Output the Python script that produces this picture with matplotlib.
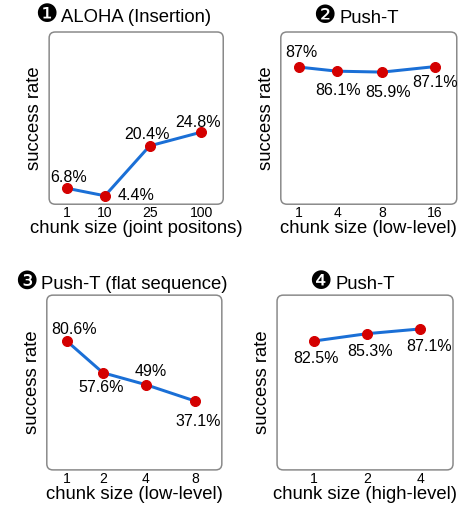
import matplotlib
matplotlib.use('Agg')
import numpy as np
import matplotlib.pyplot as plt
from matplotlib.patches import FancyBboxPatch

plt.rcParams['font.family'] = ['Liberation Sans', 'DejaVu Sans']

# data
aloha_chunks = ['1', '10', '25', '100']
aloha_rates = [6.8, 4.4, 20.4, 24.8]

pusht_low_chunks = ['1', '4', '8', '16']
pusht_low_rates = [87.0, 86.1, 85.9, 87.1]

flat_chunks = ['1', '2', '4', '8']
flat_rates = [80.6, 57.6, 49.0, 37.1]

pusht_high_chunks = ['1', '2', '4']
pusht_high_rates = [82.5, 85.3, 87.1]

badges = ['\u2776', '\u2777', '\u2778', '\u2779']
titles = ['ALOHA (Insertion)', 'Push-T', 'Push-T (flat sequence)', 'Push-T']
xlabels = ['chunk size (joint positons)', 'chunk size (low-level)',
           'chunk size (low-level)', 'chunk size (high-level)']

LINE = '#1a6fd6'
DOT = '#d40000'


# category axis whose gaps widen a little to the right, like the original drawing
def stretch(i):
    return i + 0.1 * np.asarray(i) ** 2


def unstretch(y):
    return (-1 + np.sqrt(np.clip(1 + 0.4 * np.asarray(y), 1e-9, None))) / 0.2


def panel(fig, rect, chunks, rates, badge, title, xlabel, ylim, xlim, offsets, title_off,
          stretched=True):
    ax = fig.add_axes(rect)
    if stretched:
        ax.set_xscale('function', functions=(stretch, unstretch))
    x = list(range(len(chunks)))
    ax.plot(x, rates, color=LINE, lw=3, zorder=2)
    ax.plot(x, rates, 'o', color=DOT, ms=10, zorder=3)
    for xi, r, (dx, dy) in zip(x, rates, offsets):
        ax.annotate('%g%%' % r, (xi, r), xytext=(dx, dy), textcoords='offset points',
                    ha='center', va='center', fontsize=16)
    ax.set_xlim(*xlim)
    ax.set_ylim(*ylim)
    ax.set_xticks(x)
    ax.set_xticklabels(chunks, fontsize=14)
    ax.minorticks_off()
    ax.set_yticks([])
    ax.tick_params(axis='x', length=0, pad=2)
    for s in ax.spines.values():
        s.set_visible(False)
    ax.patch.set_visible(False)
    box = FancyBboxPatch((0, 0), 1, 1, boxstyle='round,pad=0,rounding_size=0.035',
                         transform=ax.transAxes, fc='none', ec='#888888', lw=1.5,
                         clip_on=False, zorder=1)
    ax.add_patch(box)
    ax.set_xlabel(xlabel, fontsize=18.5, labelpad=0)
    ax.set_ylabel('success rate', fontsize=18.5, labelpad=6)

    # title centred on the box, numbered badge hanging to its left
    t = ax.annotate(title, (0.5, 1), xycoords='axes fraction', xytext=(0, title_off),
                    textcoords='offset points', ha='center', va='baseline', fontsize=18.5)
    w = t.get_window_extent(fig.canvas.get_renderer()).width * 72 / fig.dpi
    ax.annotate(badge, (0.5, 1), xycoords='axes fraction',
                xytext=(-w / 2 - 4, title_off), textcoords='offset points',
                ha='right', va='baseline', fontsize=25, family='DejaVu Sans')
    return ax


fig = plt.figure(figsize=(6.5, 508 / 72), dpi=72)

panel(fig, [0.105, 0.598, 0.372, 0.339], aloha_chunks, aloha_rates, badges[0], titles[0],
      xlabels[0], (1.7, 56.9), (-0.551, 3.389),
      [(2, 11), (31, 0), (-3, 11), (-3, 10)], 10)
panel(fig, [0.600, 0.598, 0.376, 0.339], pusht_low_chunks, pusht_low_rates, badges[1], titles[1],
      xlabels[1], (56.9, 94.7), (-0.551, 3.389),
      [(2, 15), (1, -19), (6, -20), (0, -16)], 9)
panel(fig, [0.100, 0.075, 0.374, 0.344], flat_chunks, flat_rates, badges[2], titles[2],
      xlabels[2], (-12.9, 113.9), (-0.649, 3.497),
      [(7, 12), (-2, -15), (5, 13), (3, -21)], 6)
panel(fig, [0.592, 0.075, 0.376, 0.344], pusht_high_chunks, pusht_high_rates, badges[3], titles[3],
      xlabels[3], (33.3, 100.0), (-0.70, 2.62),
      [(2, -18), (3, -18), (9, -18)], 6, stretched=False)

fig.savefig('out.png', dpi=72)
